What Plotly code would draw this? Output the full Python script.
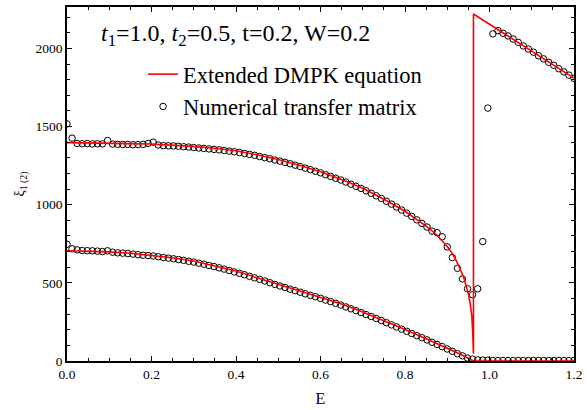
import plotly.graph_objects as go

# Energy grid of the numerical transfer-matrix points
E_pts = [0.000, 0.012, 0.024, 0.036, 0.048, 0.060, 0.072, 0.084, 0.096, 0.108,
         0.120, 0.132, 0.144, 0.156, 0.168, 0.180, 0.192, 0.204, 0.216, 0.228,
         0.240, 0.252, 0.264, 0.276, 0.288, 0.300, 0.312, 0.324, 0.336, 0.348,
         0.360, 0.372, 0.384, 0.396, 0.408, 0.420, 0.432, 0.444, 0.456, 0.468,
         0.480, 0.492, 0.504, 0.516, 0.528, 0.540, 0.552, 0.564, 0.576, 0.588,
         0.600, 0.612, 0.624, 0.636, 0.648, 0.660, 0.672, 0.684, 0.696, 0.708,
         0.720, 0.732, 0.744, 0.756, 0.768, 0.780, 0.792, 0.804, 0.816, 0.828,
         0.840, 0.852, 0.864, 0.876, 0.888, 0.900, 0.912, 0.924, 0.936, 0.948,
         0.960, 0.972, 0.984, 0.996, 1.008, 1.020, 1.032, 1.044, 1.056, 1.068,
         1.080, 1.092, 1.104, 1.116, 1.128, 1.140, 1.152, 1.164, 1.176, 1.188,
         1.200]

xi1_tm = [1517, 1426, 1392, 1390, 1391, 1389, 1390, 1389, 1411, 1388,
          1386, 1385, 1386, 1384, 1385, 1386, 1392, 1400, 1382, 1378,
          1377, 1376, 1374, 1371, 1369, 1366, 1363, 1360, 1357, 1354,
          1351, 1347, 1343, 1339, 1334, 1328, 1322, 1316, 1308, 1301,
          1294, 1286, 1279, 1271, 1262, 1253, 1244, 1234, 1224, 1214,
          1204, 1192, 1181, 1169, 1158, 1145, 1131, 1118, 1104, 1089,
          1073, 1057, 1040, 1022, 1004, 985, 966, 946, 925, 903,
          880, 857, 831, 821, 795, 730, 662, 593, 525, 462,
          424, 462, 764, 1618, 2093, 2114, 2097, 2080, 2060, 2039,
          2016, 1996, 1976, 1953, 1933, 1911, 1892, 1870, 1850, 1829,
          1808]

xi2_tm = [747, 718, 711, 707, 706, 705, 703, 700, 705, 696,
          692, 690, 687, 684, 680, 677, 675, 672, 667, 662,
          658, 654, 649, 644, 638, 633, 626, 619, 611, 604,
          596, 588, 579, 570, 561, 552, 542, 532, 522, 512,
          501, 490, 480, 470, 460, 450, 440, 430, 420, 411,
          401, 390, 380, 369, 358, 346, 334, 322, 310, 297,
          285, 272, 259, 245, 231, 218, 204, 190, 176, 162,
          149, 135, 120, 106, 92, 77, 62, 47, 33, 19,
          12, 7, 6, 5, 3, 3, 3, 3, 3, 3,
          3, 3, 3, 3, 3, 3, 3, 3, 3, 3,
          3]

# Extended DMPK curves
E_dmpk1 = [0.0, 0.05, 0.1, 0.15, 0.2, 0.25, 0.3, 0.35, 0.4, 0.45, 0.5, 0.55, 0.6,
           0.65, 0.7, 0.75, 0.8, 0.85, 0.875, 0.9, 0.91, 0.92, 0.93, 0.94, 0.945,
           0.95, 0.955, 0.958, 0.96, 0.961, 0.962, 0.962, 1.0, 1.1, 1.2]
xi1_dmpk = [1397, 1396, 1394, 1391, 1388, 1382, 1373, 1361, 1345, 1320, 1289, 1253, 1211,
            1162, 1105, 1035, 958, 863, 808, 733, 695, 648, 592, 525, 483,
            430, 355, 290, 200, 130, 46, 2220, 2155, 1983, 1810]

E_dmpk2 = [0.0, 0.05, 0.1, 0.15, 0.2, 0.25, 0.3, 0.35, 0.4, 0.45, 0.5, 0.55, 0.6,
           0.65, 0.7, 0.75, 0.8, 0.85, 0.9, 0.93, 0.962, 1.2]
xi2_dmpk = [705, 703, 698, 689, 677, 661, 640, 610, 576, 532, 490, 449, 409,
            364, 314, 260, 202, 143, 82, 45, 0, 0]

x_ticks = [0.0, 0.2, 0.4, 0.6, 0.8, 1.0, 1.2]
x_ticklabels = ["0.0", "0.2", "0.4", "0.6", "0.8", "1.0", "1.2"]
y_ticks = [0, 500, 1000, 1500, 2000]

SERIF = "Liberation Serif"

fig = go.Figure()

circ = dict(symbol="circle-open", size=6.5, color="black", line=dict(width=1, color="black"))
fig.add_trace(go.Scatter(x=E_pts, y=xi1_tm, mode="markers", marker=circ,
                         name="Numerical transfer matrix", legendgroup="tm",
                         legendrank=2, showlegend=True))
fig.add_trace(go.Scatter(x=E_pts, y=xi2_tm, mode="markers", marker=circ,
                         name="Numerical transfer matrix", legendgroup="tm",
                         showlegend=False))
fig.add_trace(go.Scatter(x=E_dmpk1, y=xi1_dmpk, mode="lines",
                         line=dict(color="#ff0000", width=1.6),
                         name="Extended DMPK equation", legendgroup="dmpk",
                         legendrank=1, showlegend=True))
fig.add_trace(go.Scatter(x=E_dmpk2, y=xi2_dmpk, mode="lines",
                         line=dict(color="#ff0000", width=1.6),
                         name="Extended DMPK equation", legendgroup="dmpk",
                         showlegend=False))

axis_common = dict(
    showline=True, linecolor="black", linewidth=1.6, mirror="ticks",
    ticks="inside", ticklen=5, tickwidth=1.2, tickcolor="black",
    showgrid=False, zeroline=False,
    tickfont=dict(family=SERIF, size=13.5, color="black"),
)

fig.update_xaxes(range=[0, 1.2], tickvals=x_ticks, ticktext=x_ticklabels,
                 minor=dict(dtick=0.05, ticks="inside", ticklen=3, tickwidth=1, tickcolor="black", showgrid=False),
                 title=dict(text="E", font=dict(family=SERIF, size=16, color="black"), standoff=12),
                 **axis_common)
fig.update_yaxes(range=[0, 2265], tickvals=y_ticks,
                 minor=dict(dtick=100, ticks="inside", ticklen=3, tickwidth=1, tickcolor="black", showgrid=False),
                 title=dict(text="ξ<sub>1 (2)</sub>", font=dict(family=SERIF, size=14, color="black"), standoff=8),
                 **axis_common)

fig.add_annotation(
    text="<i>t</i><sub>1</sub>=1.0, <i>t</i><sub>2</sub>=0.5, t=0.2, W=0.2",
    xref="paper", yref="paper", x=0.064, y=0.922, xanchor="left", yanchor="middle",
    showarrow=False, font=dict(family=SERIF, size=24, color="black"))

fig.update_layout(
    width=587, height=410,
    margin=dict(l=67, r=9, t=5, b=47),
    paper_bgcolor="white", plot_bgcolor="white",
    legend=dict(x=0.15, y=0.87, xanchor="left", yanchor="top",
                bgcolor="rgba(0,0,0,0)", borderwidth=0,
                font=dict(family=SERIF, size=22.5, color="black"),
                traceorder="grouped", tracegroupgap=0),
    showlegend=True,
)

fig.write_html("out.html", config={"displayModeBar": False},
               post_script="document.body.style.margin='0';")
